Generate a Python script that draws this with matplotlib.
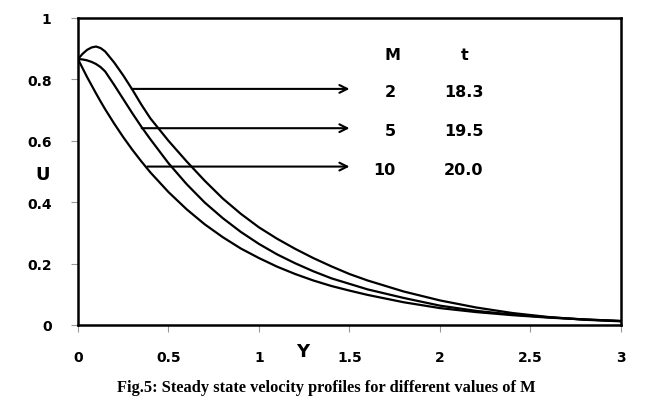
import matplotlib.pyplot as plt

# velocity profiles
y_pts = [0, 0.025, 0.05, 0.075, 0.1, 0.125, 0.15, 0.2, 0.25, 0.3, 0.35, 0.4, 0.5, 0.6,
         0.7, 0.8, 0.9, 1.0, 1.1, 1.2, 1.3, 1.4, 1.5, 1.6, 1.8, 2.0, 2.2, 2.4, 2.6,
         2.8, 3.0]
u_m2 = [0.866, 0.883, 0.896, 0.904, 0.907, 0.902, 0.891, 0.855, 0.813, 0.767, 0.718,
        0.673, 0.600, 0.533, 0.470, 0.412, 0.362, 0.318, 0.281, 0.248, 0.218, 0.191,
        0.166, 0.145, 0.109, 0.080, 0.057, 0.039, 0.026, 0.017, 0.012]
u_m5 = [0.866, 0.865, 0.862, 0.857, 0.850, 0.840, 0.826, 0.782, 0.736, 0.690, 0.646,
        0.605, 0.527, 0.459, 0.399, 0.348, 0.303, 0.264, 0.230, 0.201, 0.175, 0.152,
        0.134, 0.116, 0.088, 0.063, 0.046, 0.034, 0.025, 0.018, 0.013]
u_m10 = [0.866, 0.837, 0.808, 0.781, 0.754, 0.728, 0.703, 0.656, 0.612, 0.571, 0.533,
         0.497, 0.433, 0.377, 0.328, 0.286, 0.249, 0.218, 0.190, 0.166, 0.145, 0.127,
         0.112, 0.098, 0.074, 0.055, 0.042, 0.032, 0.024, 0.018, 0.013]

M_vals = ["2", "5", "10"]
t_vals = ["18.3", "19.5", "20.0"]
arrow_y = [0.769, 0.641, 0.516]
arrow_x0 = [0.297, 0.352, 0.383]
row_y = [0.760, 0.633, 0.508]
m_x = [1.724, 1.724, 1.69]

fig = plt.figure(figsize=(6.53, 4.10), dpi=100)
ax = fig.add_axes([0.1194, 0.2049, 0.8316, 0.7488])

for u in (u_m2, u_m5, u_m10):
    ax.plot(y_pts, u, color='black', lw=1.6)

# arrows + little table of M and t
for i in range(3):
    ax.annotate("", xy=(1.5, arrow_y[i]), xytext=(arrow_x0[i], arrow_y[i]),
                arrowprops=dict(arrowstyle='->', color='black', lw=1.5,
                                shrinkA=0, shrinkB=0, mutation_scale=14))
    ax.text(m_x[i], row_y[i], M_vals[i], ha='center', va='center',
            fontsize=11.5, fontweight='bold')
    ax.text(2.13, row_y[i], t_vals[i], ha='center', va='center',
            fontsize=11.5, fontweight='bold')
ax.text(1.738, 0.880, "M", ha='center', va='center', fontsize=11.5,
        fontweight='bold')
ax.text(2.138, 0.880, "t", ha='center', va='center', fontsize=11.5,
        fontweight='bold')

ax.set_xlim(0, 3)
ax.set_ylim(0, 1)
ax.set_xticks([0, 0.5, 1, 1.5, 2, 2.5, 3])
ax.set_xticklabels(["0", "0.5", "1", "1.5", "2", "2.5", "3"])
ax.set_yticks([0, 0.2, 0.4, 0.6, 0.8, 1])
ax.set_yticklabels(["0", "0.2", "0.4", "0.6", "0.8", "1"])
ax.tick_params(axis='both', length=5, width=0.8, color='#999999',
               labelsize=10)
ax.tick_params(axis='y', pad=14)
ax.tick_params(axis='x', pad=13)
for lab in ax.get_xticklabels() + ax.get_yticklabels():
    lab.set_fontweight('bold')
for sp in ax.spines.values():
    sp.set_linewidth(1.8)
    sp.set_color('black')

fig.text(43 / 653, 1 - 175 / 410, "U", ha='center', va='center',
         fontsize=13, fontweight='bold')
fig.text(303 / 653, 1 - 352 / 410, "Y", ha='center', va='center',
         fontsize=13, fontweight='bold')
fig.text(326 / 653, 1 - 388 / 410,
         "Fig.5: Steady state velocity profiles for different values of M",
         ha='center', va='center', fontsize=11.8, fontweight='bold',
         family='Liberation Serif')

fig.savefig("out.png", dpi=100)
